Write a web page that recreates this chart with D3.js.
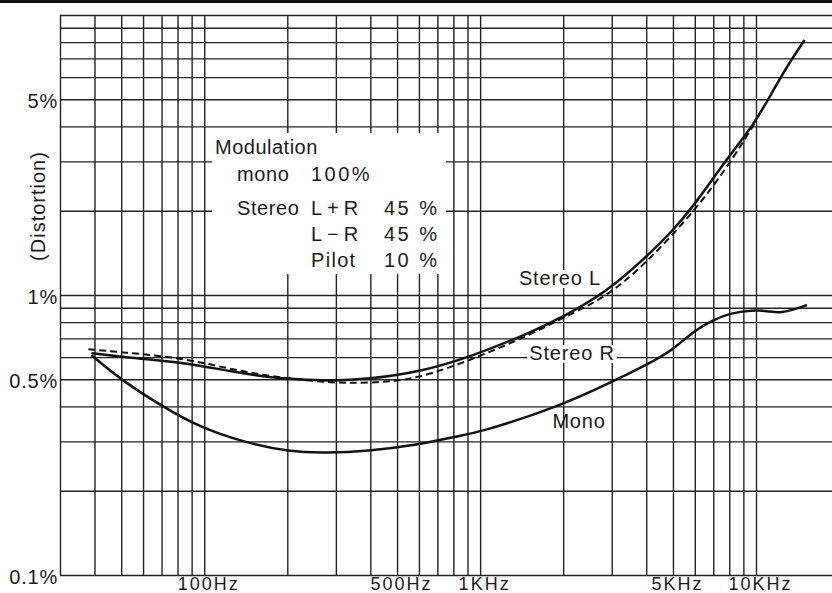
<!DOCTYPE html>
<html>
<head>
<meta charset="utf-8">
<script src="https://cdn.jsdelivr.net/npm/d3@7"></script>
<style>
  body { margin: 0; background: #fff; overflow: hidden; }
  text { font-family: "Liberation Sans", Arial, sans-serif; fill: #1a1a1a; }
</style>
</head>
<body>
<div id="chart"></div>
<script>
// values (frequency in Hz, distortion in %)
var freqStereoL = [39, 50, 84, 127, 193, 293, 389, 604, 917, 1514, 2000, 2877, 4000, 5000, 5900, 7800, 9900, 11200, 12900, 15000];
var distStereoL = [0.62, 0.60, 0.576, 0.531, 0.50, 0.493, 0.50, 0.531, 0.60, 0.732, 0.835, 1.025, 1.367, 1.7, 2.06, 3.04, 4.11, 5.1, 6.52, 8.14];

var freqStereoR = [38, 50, 84, 127, 193, 293, 389, 590, 1022, 1514, 2000, 2877, 4000, 5900, 7600, 8950, 9900];
var distStereoR = [0.64, 0.625, 0.596, 0.54, 0.505, 0.485, 0.485, 0.497, 0.61, 0.72, 0.83, 0.984, 1.3, 1.963, 2.73, 3.5, 4.11];

var freqMono = [39, 50, 71, 96, 138, 204, 278, 389, 590, 796, 1014, 2000, 3000, 4000, 5000, 6000, 7000, 8000, 9700, 11000, 12200, 13600, 15300];
var distMono = [0.61, 0.497, 0.398, 0.338, 0.2985, 0.275, 0.273, 0.277, 0.291, 0.311, 0.324, 0.405, 0.489, 0.562, 0.636, 0.75, 0.814, 0.86, 0.884, 0.877, 0.862, 0.884, 0.921];

var xTickValues = [100, 500, 1000, 5000, 10000];
var xTickLabels = ["100Hz", "500Hz", "1KHz", "5KHz", "10KHz"];
var yTickValues = [0.1, 0.5, 1, 5];
var yTickLabels = ["0.1%", "0.5%", "1%", "5%"];

var legendTitle = "Modulation";
var legendRows = [["mono", "100%", ""], ["Stereo", "L+R", "45 %"], ["", "L\u2212R", "45 %"], ["", "Pilot", "10 %"]];

// log-paper grid lines
var xGrid = d3.range(30, 100, 10).concat(d3.range(100, 1000, 100), d3.range(1000, 10000, 1000), [10000, 20000]);
var yGrid = d3.range(1, 10).map(function (d) { return d / 10; }).concat(d3.range(1, 11));

var width = 832,
	height = 593;

var svg = d3.select("#chart")
	.append("svg")
	.attr("width", width)
	.attr("height", height);

svg.append("rect").attr("width", width).attr("height", height).attr("fill", "#fff");

var x = d3.scaleLog().domain([30, 10000]).range([60, 756]);
var y = d3.scaleLog().domain([0.1, 10]).range([575, 15]);

// vertical grid
svg.append("g")
	.attr("transform", "translate(0,575)")
	.call(d3.axisBottom(x).tickValues(xGrid).tickSize(-560).tickFormat(""))
	.call(function (g) { g.select(".domain").remove(); })
	.selectAll("line").attr("stroke", "#222").attr("stroke-width", 1.4);

// horizontal grid
svg.append("g")
	.attr("transform", "translate(60,0)")
	.call(d3.axisLeft(y).tickValues(yGrid).tickSize(-(width - 60)).tickFormat(""))
	.call(function (g) { g.select(".domain").remove(); })
	.selectAll("line").attr("stroke", "#222").attr("stroke-width", 1.4);

// scan border at the very top
svg.append("line").attr("x1", 0).attr("x2", width).attr("y1", 1.5).attr("y2", 1.5)
	.attr("stroke", "#111").attr("stroke-width", 3);

// x tick labels
svg.append("g")
	.attr("transform", "translate(4,0)")
	.call(d3.axisBottom(x).tickValues(xTickValues).tickSize(0).tickPadding(0)
		.tickFormat(function (d, i) { return xTickLabels[i]; }))
	.call(function (g) { g.select(".domain").remove(); })
	.selectAll("text")
	.attr("y", 589.5).attr("dy", null)
	.style("font-size", "18px").style("letter-spacing", "2px")
	.attr("fill", "#1a1a1a");

// y tick labels
svg.append("g")
	.attr("transform", "translate(58,2)")
	.call(d3.axisLeft(y).tickValues(yTickValues).tickSize(0).tickPadding(0)
		.tickFormat(function (d, i) { return yTickLabels[i]; }))
	.call(function (g) { g.select(".domain").remove(); })
	.selectAll("text")
	.style("font-size", "20px").style("letter-spacing", "0.8px")
	.attr("fill", "#1a1a1a");

svg.append("text")
	.attr("transform", "translate(45,206) rotate(-90)")
	.attr("text-anchor", "middle")
	.style("font-size", "20px").style("letter-spacing", "1px")
	.text("(Distortion)");

// legend box
svg.append("rect").attr("x", 212).attr("y", 133).attr("width", 234).attr("height", 141).attr("fill", "#fff");

svg.append("text").attr("x", 215).attr("y", 154)
	.style("font-size", "20px").style("letter-spacing", "0.5px")
	.text(legendTitle);

var colX = [237, 311, 384],
	rowY = [181, 215, 241, 267];
legendRows.forEach(function (row, r) {
	row.forEach(function (t, c) {
		if (!t) return;
		var ls = c === 0 ? "0.6px" : (c === 1 && r > 0 && r < 3 ? "5px" : (c === 1 && r === 3 ? "1.3px" : "2.5px"));
		svg.append("text")
			.attr("x", colX[c]).attr("y", rowY[r])
			.style("font-size", "20px")
			.style("letter-spacing", ls)
			.text(t);
	});
});

// curve labels (with paper-white backing where the grid is interrupted)
function curveLabel(txt, cx, by, backing) {
	var t = svg.append("text").attr("x", cx).attr("y", by)
		.attr("text-anchor", "middle")
		.style("font-size", "20px").style("letter-spacing", "0.8px")
		.text(txt);
	if (backing) {
		var b = t.node().getBBox();
		svg.insert("rect", function () { return t.node(); })
			.attr("x", b.x - 2).attr("y", b.y + 3).attr("width", b.width + 4).attr("height", b.height - 4)
			.attr("fill", "#fff");
	}
}
curveLabel("Stereo L", 560, 285, true);
curveLabel("Stereo R", 572, 360, true);
curveLabel("Mono", 579, 428, false);

// curves
var line = d3.line()
	.x(function (d) { return x(d[0]); })
	.y(function (d) { return y(d[1]); })
	.curve(d3.curveBasis);

function pairs(f, v) { return f.map(function (d, i) { return [d, v[i]]; }); }

svg.append("path").datum(pairs(freqStereoR, distStereoR))
	.attr("d", line).attr("fill", "none").attr("stroke", "#111")
	.attr("stroke-width", 2).attr("stroke-dasharray", "7,4");

svg.append("path").datum(pairs(freqStereoL, distStereoL))
	.attr("d", line).attr("fill", "none").attr("stroke", "#111").attr("stroke-width", 2.5);

svg.append("path").datum(pairs(freqMono, distMono))
	.attr("d", line).attr("fill", "none").attr("stroke", "#111").attr("stroke-width", 2.5);
</script>
</body>
</html>
